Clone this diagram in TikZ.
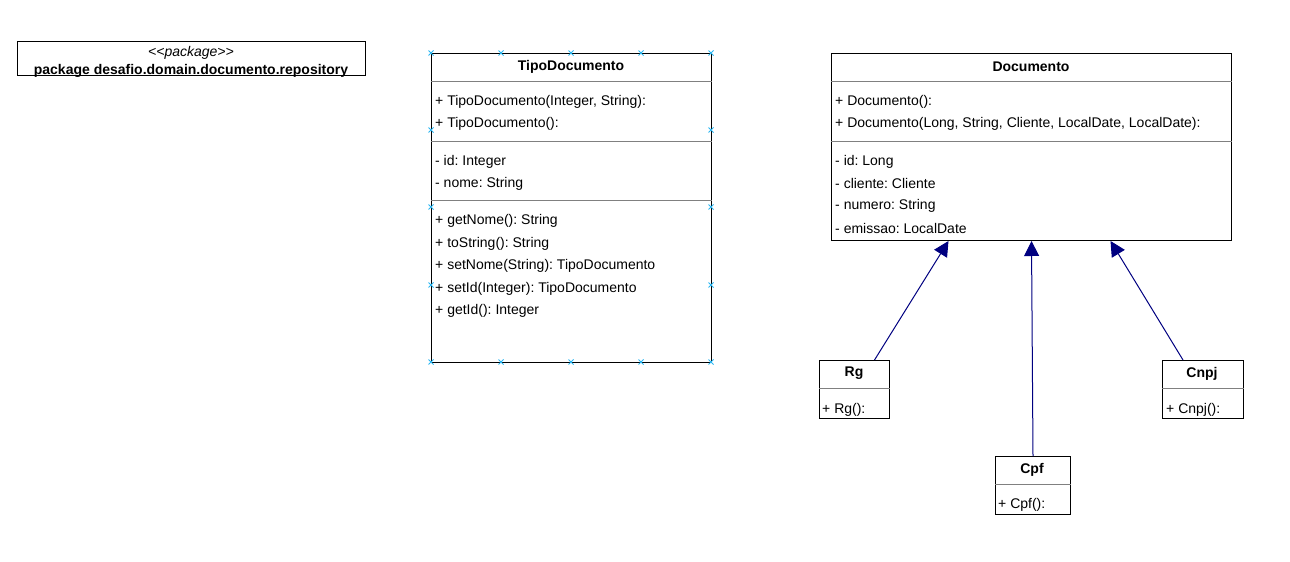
\documentclass[tikz,border=0pt]{standalone}
\usepackage{fontspec}
\setmainfont{Liberation Sans}
\usetikzlibrary{positioning,arrows.meta}
\definecolor{navy}{RGB}{0,0,128}
\definecolor{handleblue}{RGB}{41,182,242}
\frenchspacing

\begin{document}
\begin{tikzpicture}[x=1pt,y=-1pt,
    classbox/.style={draw=black,line width=1pt,anchor=north west,inner sep=0pt},
    classname/.style={font=\fontsize{14}{16}\selectfont\bfseries,inner sep=0pt,yshift=-1.5pt},
    member/.style={font=\fontsize{14}{16}\selectfont,anchor=west,inner sep=0pt,yshift=-1.5pt},
    divider/.style={draw=gray,line width=1pt},
    handle/.style={draw=handleblue,line width=0.8pt},
    extends/.style={draw=navy,line width=1pt,-{Triangle[length=15pt,width=15pt]}}]

\useasboundingbox (0,0) rectangle (1290,562);

% package
\node[classbox,minimum width=348pt,minimum height=34pt] (pkg) at (17,41) {};
\node[inner sep=0pt,font=\fontsize{14}{16}\selectfont\itshape,yshift=-1.5pt] (pkgStereo) at (191,51) {<\kern0pt<package>\kern0pt>};
\node[classname] (pkgName) at (191,69) {package desafio.domain.documento.repository};

% TipoDocumento
\node[classbox,minimum width=280pt,minimum height=309pt] (tipo) at (431,53) {};
\node[classname] (tipoName) at (571,65) {TipoDocumento};
\foreach \y in {81,141,200}
    \draw[divider] (tipo.west |- 0,\y) -- (tipo.east |- 0,\y);
\foreach \y/\txt [count=\i] in {100/{+ TipoDocumento(Integer, String):}, 122/{+ TipoDocumento():},
    160/{- id: Integer}, 182/{- nome: String},
    219/{+ getNome(): String}, 242/{+ toString(): String}, 264/{+ setNome(String): TipoDocumento},
    287/{+ setId(Integer): TipoDocumento}, 309/{+ getId(): Integer}} {
    \node[member] (tipoM\i) at (435,\y) {\txt};
}

% selection handles
\foreach \x in {431,501,571,641,711} {
    \draw[handle] (\x,53) ++(-2.5,-2.5) -- ++(5,5) ++(-5,0) -- ++(5,-5);
    \draw[handle] (\x,362) ++(-2.5,-2.5) -- ++(5,5) ++(-5,0) -- ++(5,-5);
}
\foreach \y in {130,207,285} {
    \draw[handle] (431,\y) ++(-2.5,-2.5) -- ++(5,5) ++(-5,0) -- ++(5,-5);
    \draw[handle] (711,\y) ++(-2.5,-2.5) -- ++(5,5) ++(-5,0) -- ++(5,-5);
}

% Documento
\node[classbox,minimum width=400pt,minimum height=187pt] (doc) at (831,53) {};
\node[classname] (docName) at (1031,65) {Documento};
\foreach \y in {81,141}
    \draw[divider] (doc.west |- 0,\y) -- (doc.east |- 0,\y);
\foreach \y/\txt [count=\i] in {100/{+ Documento():}, 122/{+ Documento(Long, String, Cliente, LocalDate, LocalDate):},
    160/{- id: Long}, 182/{- cliente: Cliente}, 204/{- numero: String}, 227/{- emissao: LocalDate}} {
    \node[member] (docM\i) at (835,\y) {\txt};
}

% subclasses
\node[classbox,minimum width=70pt,minimum height=58pt] (rg) at (819,360) {};
\node[classname] (rgName) at (854,372) {Rg};
\draw[divider] (rg.west |- 0,388) -- (rg.east |- 0,388);
\node[member] (rgM1) at (822,408) {+ Rg():};

\node[classbox,minimum width=81pt,minimum height=58pt] (cnpj) at (1162,360) {};
\node[classname] (cnpjName) at (1202,372) {Cnpj};
\draw[divider] (cnpj.west |- 0,388) -- (cnpj.east |- 0,388);
\node[member] (cnpjM1) at (1166,408) {+ Cnpj():};

\node[classbox,minimum width=75pt,minimum height=58pt] (cpf) at (995,456) {};
\node[classname] (cpfName) at (1032,468) {Cpf};
\draw[divider] (cpf.west |- 0,484) -- (cpf.east |- 0,484);
\node[member] (cpfM1) at (998,503) {+ Cpf():};

% inheritance
\draw[extends] ([xshift=20pt]rg.north) -- ([xshift=-83pt]doc.south);
\draw[extends] (cpf.north) -- (doc.south);
\draw[extends] ([xshift=-20pt]cnpj.north) -- ([xshift=79pt]doc.south);
\end{tikzpicture}
\end{document}
